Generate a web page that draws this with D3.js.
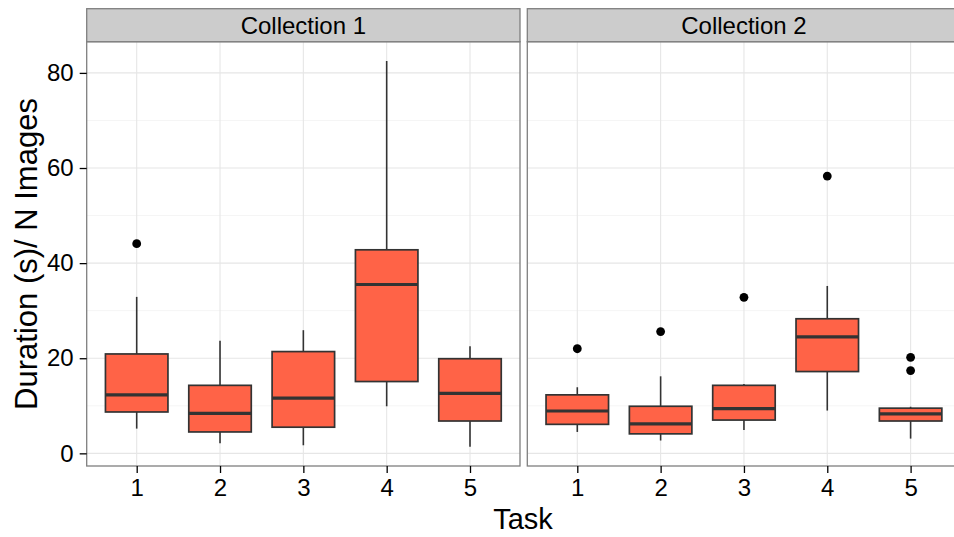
<!DOCTYPE html>
<html><head><meta charset="utf-8">
<script src="https://cdn.jsdelivr.net/npm/d3@7"></script>
<style>body{margin:0;background:#fff}svg{display:block;font-family:"Liberation Sans",Arial,Helvetica,sans-serif}</style>
</head><body><svg id="c" width="954" height="537"></svg>
<script>
const collections = ["Collection 1", "Collection 2"];
const tasks = ["1", "2", "3", "4", "5"];
const yTicks = [0, 20, 40, 60, 80];
const yMinor = [10, 30, 50, 70];
// per collection, per task: box statistics
const whiskerLow = [[5.2, 2.1, 1.7, 9.9, 1.4], [4.5, 2.7, 4.9, 9.0, 3.1]];
const q1 =         [[8.7, 4.5, 5.5, 15.1, 6.8], [6.1, 4.1, 7.0, 17.2, 6.8]];
const median =     [[12.3, 8.4, 11.6, 35.5, 12.6], [8.9, 6.2, 9.4, 24.5, 8.3]];
const q3 =         [[20.9, 14.3, 21.4, 42.8, 19.9], [12.3, 9.9, 14.3, 28.3, 9.5]];
const whiskerHigh =[[32.9, 23.7, 25.9, 82.5, 22.5], [13.9, 16.2, 14.6, 35.2, 9.8]];
const outliers =   [[[44.1], [], [], [], []], [[22.0], [25.6], [32.8], [58.3], [20.2, 17.4]]];

const svg = d3.select("#c");
const panelW = 433.3, panelTop = 41.7, panelBottom = 466, stripTop = 8.7;
const panelLefts = [86.7, 527.3];
const y = d3.scaleLinear().domain([-2.66, 86.56]).range([panelBottom, panelTop]);

collections.forEach((col, ci) => {
  const left = panelLefts[ci];
  const x = d3.scalePoint().domain(tasks).range([left, left + panelW]).padding(0.6);
  const step = x.step();
  const g = svg.append("g");
  g.append("rect").attr("x", left).attr("y", panelTop).attr("width", panelW).attr("height", panelBottom - panelTop).attr("fill", "#fff");
  g.selectAll(".ymin").data(yMinor).join("line").attr("x1", left).attr("x2", left + panelW)
    .attr("y1", d => y(d)).attr("y2", d => y(d)).attr("stroke", "#f5f5f5").attr("stroke-width", 1);
  g.selectAll(".ymaj").data(yTicks).join("line").attr("x1", left).attr("x2", left + panelW)
    .attr("y1", d => y(d)).attr("y2", d => y(d)).attr("stroke", "#e6e6e6").attr("stroke-width", 1.1);
  g.selectAll(".xmaj").data(tasks).join("line").attr("x1", d => x(d)).attr("x2", d => x(d))
    .attr("y1", panelTop).attr("y2", panelBottom).attr("stroke", "#e6e6e6").attr("stroke-width", 1.1);
  const bw = step * 0.75;
  tasks.forEach((t, ti) => {
    const cx = x(t);
    const bg = g.append("g");
    bg.append("line").attr("x1", cx).attr("x2", cx).attr("y1", y(q3[ci][ti])).attr("y2", y(whiskerHigh[ci][ti]))
      .attr("stroke", "#333").attr("stroke-width", 1.6);
    bg.append("line").attr("x1", cx).attr("x2", cx).attr("y1", y(q1[ci][ti])).attr("y2", y(whiskerLow[ci][ti]))
      .attr("stroke", "#333").attr("stroke-width", 1.6);
    bg.append("rect").attr("x", cx - bw / 2).attr("y", y(q3[ci][ti])).attr("width", bw)
      .attr("height", y(q1[ci][ti]) - y(q3[ci][ti])).attr("fill", "#FF6347").attr("stroke", "#333").attr("stroke-width", 1.7);
    bg.append("line").attr("x1", cx - bw / 2).attr("x2", cx + bw / 2).attr("y1", y(median[ci][ti])).attr("y2", y(median[ci][ti]))
      .attr("stroke", "#333").attr("stroke-width", 3.2);
    bg.selectAll("circle").data(outliers[ci][ti]).join("circle").attr("cx", cx).attr("cy", d => y(d)).attr("r", 4.4).attr("fill", "#000");
  });
  g.append("rect").attr("x", left).attr("y", panelTop).attr("width", panelW).attr("height", panelBottom - panelTop)
    .attr("fill", "none").attr("stroke", "#7f7f7f").attr("stroke-width", 1.3);
  g.append("rect").attr("x", left).attr("y", stripTop).attr("width", panelW).attr("height", panelTop - stripTop)
    .attr("fill", "#cccccc").attr("stroke", "#7f7f7f").attr("stroke-width", 1.3);
  g.append("text").attr("x", left + panelW / 2).attr("y", (stripTop + panelTop) / 2).attr("dy", "0.36em")
    .attr("text-anchor", "middle").attr("font-size", 24).attr("fill", "#000").text(col);
  const xa = svg.append("g").attr("transform", `translate(0,${panelBottom})`)
    .call(d3.axisBottom(x).tickSize(7).tickPadding(6));
  xa.select(".domain").remove();
  xa.selectAll(".tick line").attr("stroke", "#000").attr("stroke-width", 1.3);
  xa.selectAll(".tick text").attr("font-size", 24).attr("fill", "#000").attr("font-family", "Liberation Sans, Arial, sans-serif");
});

const ya = svg.append("g").attr("transform", `translate(${panelLefts[0]},0)`)
  .call(d3.axisLeft(y).tickValues(yTicks).tickSize(7).tickPadding(6));
ya.select(".domain").remove();
ya.selectAll(".tick line").attr("stroke", "#000").attr("stroke-width", 1.3);
ya.selectAll(".tick text").attr("font-size", 24).attr("fill", "#000").attr("font-family", "Liberation Sans, Arial, sans-serif");

svg.append("text").attr("x", 523).attr("y", 529).attr("text-anchor", "middle").attr("font-size", 29).text("Task");
svg.append("text").attr("transform", "translate(37,254) rotate(-90)").attr("text-anchor", "middle")
  .attr("font-size", 31).text("Duration (s)/ N Images");
</script></body></html>
